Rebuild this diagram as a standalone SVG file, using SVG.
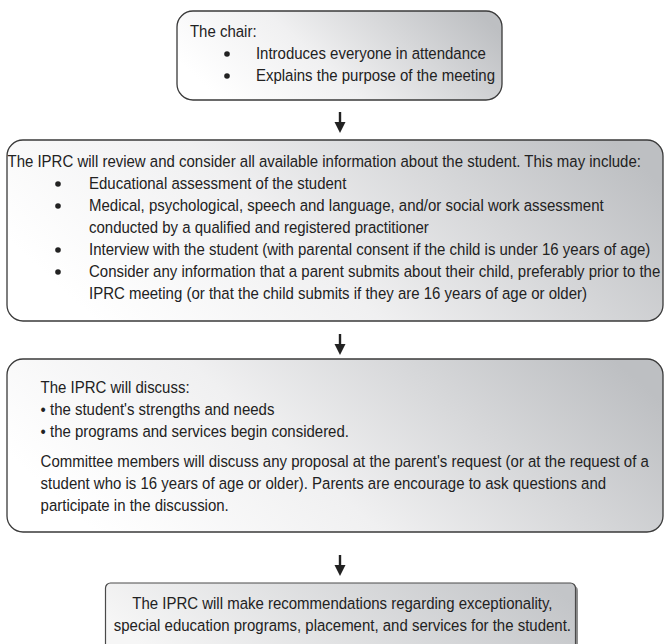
<svg xmlns="http://www.w3.org/2000/svg" width="665" height="644" viewBox="0 0 665 644">
<defs>
<linearGradient id="g" x1="0" y1="0.55" x2="1" y2="0.25">
<stop offset="0" stop-color="#ffffff"/>
<stop offset="0.4" stop-color="#f0f0f1"/>
<stop offset="1" stop-color="#bdbfc2"/>
</linearGradient>
<linearGradient id="g4" x1="0" y1="0.5" x2="1" y2="0.3">
<stop offset="0" stop-color="#f6f6f6"/>
<stop offset="1" stop-color="#c3c5c8"/>
</linearGradient>
</defs>
<style>
.box{fill:url(#g);stroke:#3a3a3a;stroke-width:1.3}
.t{font-family:"Liberation Sans",Arial,sans-serif;font-size:17px;fill:#222}
.c{text-anchor:middle}
.shaft{stroke:#222;stroke-width:2.4;fill:none}
.head{fill:#222}
.dot{fill:#222}
</style>
<g id="connectors">
<path class="shaft" d="M340,112 V123"/>
<path class="head" d="M334.5,122 L345.5,122 L340,133 Z"/>
<path class="shaft" d="M340,334 V345"/>
<path class="head" d="M334.5,344 L345.5,344 L340,355 Z"/>
<path class="shaft" d="M340,555 V566"/>
<path class="head" d="M334.5,565 L345.5,565 L340,576 Z"/>
</g>
<g id="node1">
<rect class="box" x="177" y="11" width="325" height="89" rx="16"/>
<circle class="dot" cx="227" cy="54" r="2.8"/>
<circle class="dot" cx="227" cy="76" r="2.8"/>
<g transform="scale(0.882 1)">
<text class="t" x="215.4" y="37">The chair:</text>
<text class="t" x="290.2" y="59">Introduces everyone in attendance</text>
<text class="t" x="290.2" y="81">Explains the purpose of the meeting</text>
</g>
</g>
<g id="node2">
<rect class="box" x="7" y="140" width="656" height="181" rx="16"/>
<circle class="dot" cx="58" cy="184" r="2.8"/>
<circle class="dot" cx="58" cy="206" r="2.8"/>
<circle class="dot" cx="58" cy="250" r="2.8"/>
<circle class="dot" cx="58" cy="272" r="2.8"/>
<g transform="scale(0.882 1)">
<text class="t" x="8.5" y="167">The IPRC will review and consider all available information about the student. This may include:</text>
<text class="t" x="100.9" y="189">Educational assessment of the student</text>
<text class="t" x="100.9" y="211">Medical, psychological, speech and language, and/or social work assessment</text>
<text class="t" x="100.9" y="233">conducted by a qualified and registered practitioner</text>
<text class="t" x="100.9" y="255">Interview with the student (with parental consent if the child is under 16 years of age)</text>
<text class="t" x="100.9" y="277">Consider any information that a parent submits about their child, preferably prior to the</text>
<text class="t" x="100.9" y="299">IPRC meeting (or that the child submits if they are 16 years of age or older)</text>
</g>
</g>
<g id="node3">
<rect class="box" x="7" y="359" width="656" height="173" rx="16"/>
<g transform="scale(0.882 1)">
<text class="t" x="46" y="393">The IPRC will discuss:</text>
<text class="t" x="46" y="415">• the student's strengths and needs</text>
<text class="t" x="46" y="437">• the programs and services begin considered.</text>
<text class="t" x="46" y="467">Committee members will discuss any proposal at the parent's request (or at the request of a</text>
<text class="t" x="46" y="489">student who is 16 years of age or older). Parents are encourage to ask questions and</text>
<text class="t" x="46" y="511">participate in the discussion.</text>
</g>
</g>
<g id="node4">
<rect x="108" y="585.5" width="470" height="70" rx="5" fill="#8e8e8e"/>
<rect x="105.5" y="583" width="470" height="70" rx="5" fill="url(#g4)" stroke="#4a4a4a" stroke-width="1.2"/>
<g transform="scale(0.882 1)">
<text class="t c" x="388.2" y="609">The IPRC will make recommendations regarding exceptionality,</text>
<text class="t c" x="388.2" y="631">special education programs, placement, and services for the student.</text>
</g>
</g>
</svg>
